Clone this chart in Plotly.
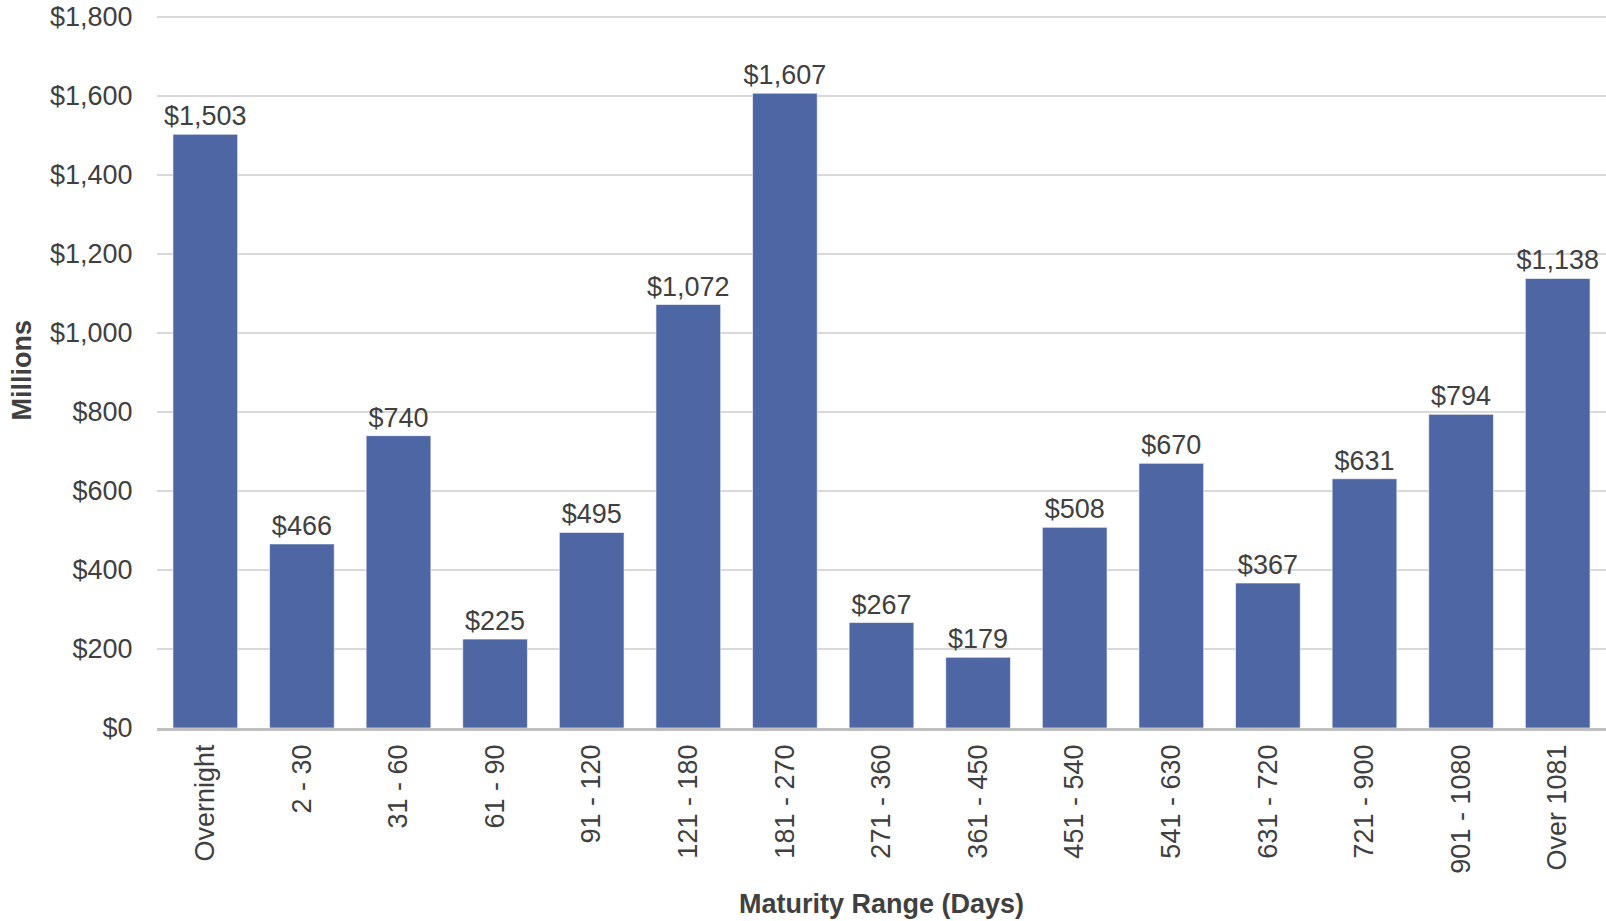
import plotly.graph_objects as go

categories = ["Overnight", "2 - 30", "31 - 60", "61 - 90", "91 - 120", "121 - 180",
              "181 - 270", "271 - 360", "361 - 450", "451 - 540", "541 - 630",
              "631 - 720", "721 - 900", "901 - 1080", "Over 1081"]
values = [1503, 466, 740, 225, 495, 1072, 1607, 267, 179, 508, 670, 367, 631, 794, 1138]
y_ticks = [0, 200, 400, 600, 800, 1000, 1200, 1400, 1600, 1800]

FONT = "Liberation Sans, Arial, sans-serif"
TXT = "#404040"

fig = go.Figure(go.Bar(
    x=categories, y=values,
    marker=dict(color="#4E67A4", line=dict(color="rgba(255,255,255,0.6)", width=1)),
    texttemplate="$%{y:,}", textposition="outside", constraintext="none",
    textfont=dict(family=FONT, size=27, color=TXT),
    cliponaxis=False,
))

fig.update_layout(
    width=1606, height=921,
    margin=dict(l=157, r=0, t=13, b=193, autoexpand=False),
    paper_bgcolor="white", plot_bgcolor="white",
    bargap=0.33, showlegend=False,
    font=dict(family=FONT, size=27, color=TXT),
    annotations=[
        dict(text="<b>Maturity Range (Days)</b>", xref="paper", yref="paper",
             x=0.5, y=0, yshift=-176, xanchor="center", yanchor="middle",
             showarrow=False, font=dict(family=FONT, size=27, color=TXT)),
        dict(text="<b>Millions</b>", xref="paper", yref="paper",
             x=0, y=0.5, xshift=-136, textangle=-90, xanchor="center", yanchor="middle",
             showarrow=False, font=dict(family=FONT, size=27, color=TXT)),
    ],
)
fig.update_yaxes(
    range=[0, 1810], tickvals=y_ticks, ticktext=[f"${v:,}" for v in y_ticks],
    showgrid=True, gridcolor="#D9D9D9", gridwidth=1.5,
    zeroline=False, showline=False, automargin=False,
    ticks="outside", ticklen=18, tickcolor="rgba(0,0,0,0)",
    tickfont=dict(family=FONT, size=27, color=TXT),
)
fig.update_xaxes(
    tickangle=-90, showline=True, linecolor="#BFBFBF", linewidth=2.5,
    automargin=False,
    ticks="outside", ticklen=3, tickcolor="rgba(0,0,0,0)",
    tickfont=dict(family=FONT, size=27, color=TXT),
)

fig.write_html("out.html", config={"displayModeBar": False},
               post_script="document.body.style.margin='0';")
